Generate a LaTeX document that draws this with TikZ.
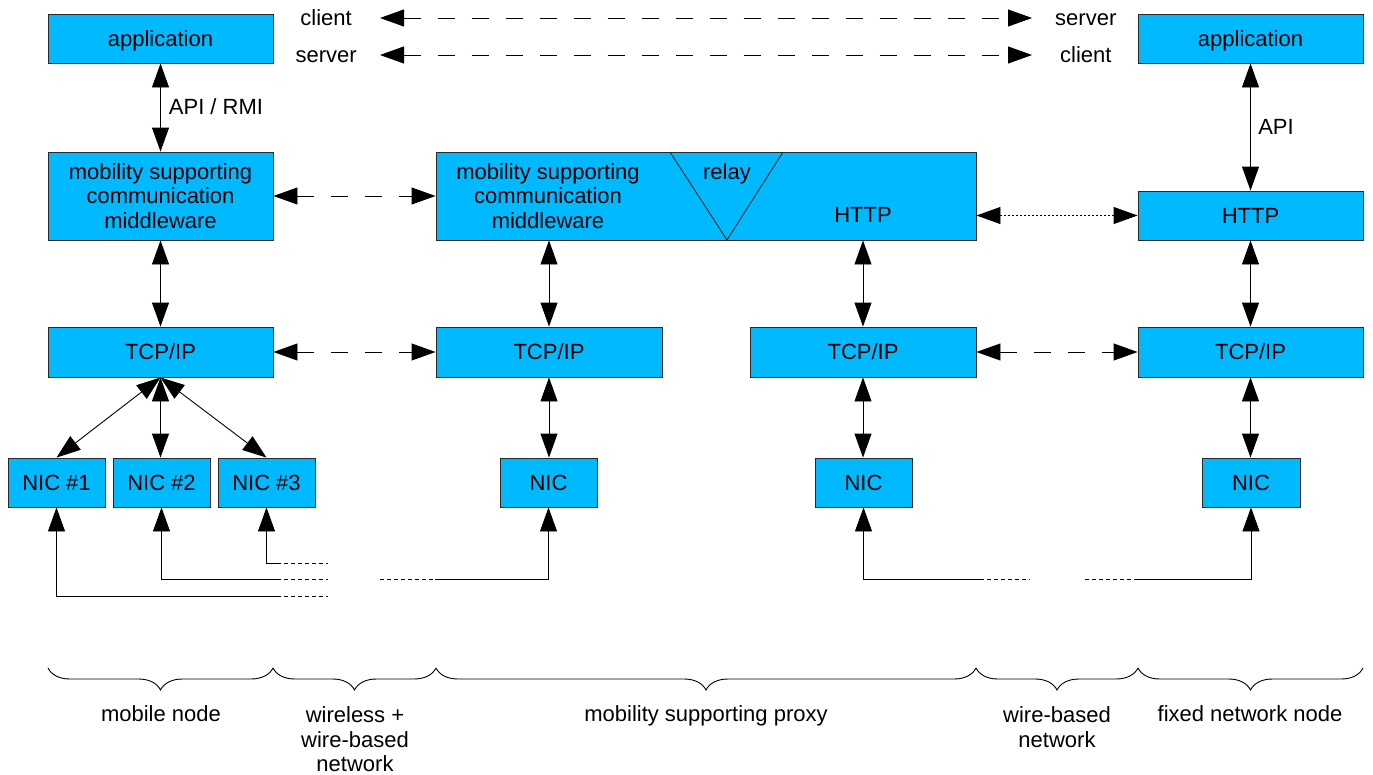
\documentclass[tikz,border=0pt]{standalone}
\usepackage{fontspec}
\setmainfont{Liberation Sans}
\usetikzlibrary{arrows.meta,decorations.pathreplacing}
\definecolor{boxblue}{RGB}{0,185,255}
\definecolor{boxline}{RGB}{40,40,40}
\begin{document}
\begin{tikzpicture}[x=1pt,y=-1pt,
  every node/.style={font=\fontsize{22}{24.5}\selectfont, text=black},
  box/.style={draw=boxline, fill=boxblue, line width=0.9pt, inner sep=0pt, align=center},
  plain/.style={inner sep=0pt, align=center},
  one/.style={text height=15.8pt, text depth=0pt},
  tipa/.tip={Triangle[length=24pt,width=17pt]},
  dbl/.style={line width=0.9pt, tipa-tipa},
  dbldash/.style={line width=0.9pt, tipa-tipa, dash pattern=on 17pt off 17pt},
  dbldot/.style={line width=0.9pt, tipa-tipa, dash pattern=on 2pt off 2pt},
  uparr/.style={line width=0.9pt, -tipa},
  wire/.style={line width=0.9pt},
  smalldash/.style={line width=0.9pt, dash pattern=on 4pt off 3pt},
  brc/.style={line width=0.9pt, decorate, decoration={brace, mirror, amplitude=22pt}}
]
\path[use as bounding box] (0,0) rectangle (1373,774);

% boxes
\node[box, one, minimum width=225pt, minimum height=49pt] (appL) at (160.5,38.5) {application};
\node[box, one, minimum width=225pt, minimum height=49pt] (appR) at (1250.5,38.5) {application};
\node[box, minimum width=225pt, minimum height=88pt] (mwL) at (160.5,196) {mobility supporting\\communication\\middleware};
\node[box, minimum width=540pt, minimum height=88pt] (proxy) at (706,196) {};
\node[box, one, minimum width=225pt, minimum height=49pt] (httpR) at (1250.5,215.5) {HTTP};
\node[box, one, minimum width=225pt, minimum height=50pt] (tcpL) at (160.5,352) {TCP/IP};
\node[box, one, minimum width=226pt, minimum height=50pt] (tcpP1) at (549,352) {TCP/IP};
\node[box, one, minimum width=226pt, minimum height=50pt] (tcpP2) at (863,352) {TCP/IP};
\node[box, one, minimum width=225pt, minimum height=50pt] (tcpR) at (1250.5,352) {TCP/IP};
\node[box, one, minimum width=97pt, minimum height=49pt] (nic1) at (56.5,482.5) {NIC \#1};
\node[box, one, minimum width=97pt, minimum height=49pt] (nic2) at (161.5,482.5) {NIC \#2};
\node[box, one, minimum width=97pt, minimum height=49pt] (nic3) at (266.5,482.5) {NIC \#3};
\node[box, one, minimum width=97pt, minimum height=49pt] (nicP1) at (548.5,482.5) {NIC};
\node[box, one, minimum width=97pt, minimum height=49pt] (nicP2) at (863.5,482.5) {NIC};
\node[box, one, minimum width=98pt, minimum height=49pt] (nicR) at (1251,482.5) {NIC};

% inside proxy box
\draw[line width=0.9pt, boxline] (670,152) -- (727,240) -- (783,152);
\node[plain] (mwP) at (548,196) {mobility supporting\\communication\\middleware};
\node[plain, one] (relay) at (727,172) {relay};
\node[plain, one] (httpP) at (863,215) {HTTP};

% top labels
\node[plain, one, anchor=east] (cl1) at (352,18) {client};
\node[plain, one, anchor=west] (sv1) at (1055,18) {server};
\node[plain, one, anchor=east] (sv2) at (357,55) {server};
\node[plain, one, anchor=west] (cl2) at (1060,55) {client};
\draw[dbldash, shorten <=28pt, shorten >=23pt] (cl1.east) -- (sv1.west);
\draw[dbldash, shorten <=23pt, shorten >=28pt] (sv2.east) -- (cl2.west);

% vertical connectors
\draw[dbl] (appL) -- (mwL);
\node[plain, one] (apirmi) at (216,107) {API / RMI};
\draw[dbl] (appR) -- (httpR);
\node[plain, one] (api) at (1276,127) {API};
\draw[dbl] (mwL) -- (tcpL);
\draw[dbl] (tcpP1.north |- proxy.south) -- (tcpP1.north);
\draw[dbl] (tcpP2.north |- proxy.south) -- (tcpP2.north);
\draw[dbl] (httpR) -- (tcpR);
\draw[dbl] (tcpL.south) -- (nic1.north);
\draw[dbl] (tcpL.south) -- (tcpL.south |- nic2.north);
\draw[dbl] (tcpL.south) -- (nic3.north);
\draw[dbl] (tcpP1.south) -- (tcpP1.south |- nicP1.north);
\draw[dbl] (tcpP2.south) -- (tcpP2.south |- nicP2.north);
\draw[dbl] (tcpR.south) -- (tcpR.south |- nicR.north);

% horizontal connectors
\draw[dbldash] (mwL.east) -- (proxy.west |- mwL.east);
\draw[dbldash] (tcpL) -- (tcpP1);
\draw[dbldash] (tcpP2) -- (tcpR);
\draw[dbldot] (proxy.east |- httpR.west) -- (httpR.west);

% bottom wires
\coordinate (w1a) at (277,596); \coordinate (w1b) at (328,596);
\coordinate (w2a) at (277,579); \coordinate (w2b) at (328,579);
\coordinate (w3a) at (277,563); \coordinate (w3b) at (328,563);
\coordinate (p1a) at (380,579); \coordinate (p1b) at (435,579);
\coordinate (p2a) at (980,579); \coordinate (p2b) at (1030,579);
\coordinate (r1a) at (1085,579); \coordinate (r1b) at (1137,579);
\draw[uparr] (w1a) -| (nic1.south);
\draw[uparr] (w2a) -| (nic2.south);
\draw[uparr] (w3a) -| (nic3.south);
\draw[smalldash] (w1a) -- (w1b);
\draw[smalldash] (w2a) -- (w2b);
\draw[smalldash] (w3a) -- (w3b);
\draw[smalldash] (p1a) -- (p1b);
\draw[uparr] (p1b) -| (nicP1.south);
\draw[uparr] (p2a) -| (nicP2.south);
\draw[smalldash] (p2a) -- (p2b);
\draw[smalldash] (r1a) -- (r1b);
\draw[uparr] (r1b) -| (nicR.south);

% braces
\coordinate (b0) at (48,668);
\coordinate (b1) at (273,668);
\coordinate (b2) at (436,668);
\coordinate (b3) at (976,668);
\coordinate (b4) at (1138,668);
\coordinate (b5) at (1363,668);
\draw[brc] (b0) -- (b1);
\draw[brc] (b1) -- (b2);
\draw[brc] (b2) -- (b3);
\draw[brc] (b3) -- (b4);
\draw[brc] (b4) -- (b5);
\node[plain, one] (lmn) at (161,714) {mobile node};
\node[plain] (lww) at (355,739.5) {wireless +\\wire-based\\network};
\node[plain, one] (lmp) at (706,714) {mobility supporting proxy};
\node[plain] (lwb) at (1057,727) {wire-based\\network};
\node[plain, one] (lfn) at (1250,714) {fixed network node};
\end{tikzpicture}
\end{document}
